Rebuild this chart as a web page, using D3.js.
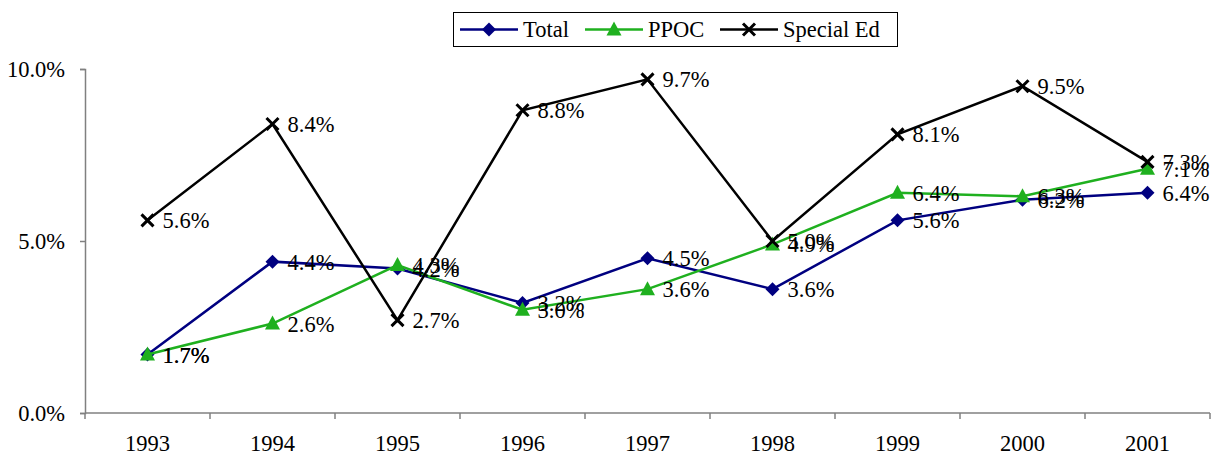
<!DOCTYPE html>
<html>
<head>
<meta charset="utf-8">
<script src="https://cdn.jsdelivr.net/npm/d3@7"></script>
<style>
body { margin: 0; background: #fff; }
</style>
</head>
<body>
<script>
// chart data
var years = ["1993", "1994", "1995", "1996", "1997", "1998", "1999", "2000", "2001"];
var total = [1.7, 4.4, 4.2, 3.2, 4.5, 3.6, 5.6, 6.2, 6.4];
var ppoc = [1.7, 2.6, 4.3, 3.0, 3.6, 4.9, 6.4, 6.3, 7.1];
var specialEd = [5.6, 8.4, 2.7, 8.8, 9.7, 5.0, 8.1, 9.5, 7.3];
var yTicks = [0, 5, 10];

var series = [
	{name: "Total", values: total, color: "#000080", marker: "diamond"},
	{name: "PPOC", values: ppoc, color: "#1fb01f", marker: "triangle"},
	{name: "Special Ed", values: specialEd, color: "#000000", marker: "cross"}
];

var font = "Liberation Serif, DejaVu Serif, serif";
var fs = 22.5;
var width = 1220, height = 455;
var margin = {left: 85, right: 10, top: 69, bottom: 42};

var svg = d3.select("body")
	.append("svg")
	.attr("width", width)
	.attr("height", height)
	.style("font-family", font);

var x = d3.scaleBand()
	.domain(years)
	.range([margin.left, width - margin.right]);

var y = d3.scaleLinear()
	.domain([0, 10])
	.range([height - margin.bottom, margin.top]);

// y axis
var yAxis = svg.append("g")
	.attr("transform", "translate(" + margin.left + ",0)")
	.call(d3.axisLeft(y).tickValues(yTicks).tickSize(5).tickPadding(15)
		.tickFormat(function(d) { return d.toFixed(1) + "%"; }));
yAxis.attr("font-family", font).attr("font-size", null);
yAxis.select(".domain").attr("stroke", "#808080").attr("stroke-width", 1.5);
yAxis.selectAll("line").attr("stroke", "#808080").attr("stroke-width", 1.5);
yAxis.selectAll("text").attr("font-size", fs).attr("font-family", font).attr("fill", "#000");

// x axis, ticks between categories
var xAxis = svg.append("g")
	.attr("transform", "translate(0," + y(0) + ")");
xAxis.append("line")
	.attr("x1", margin.left).attr("x2", width - margin.right)
	.attr("stroke", "#808080").attr("stroke-width", 1.5);
var edges = years.map(function(d) { return x(d); }).concat([x(years[years.length - 1]) + x.bandwidth()]);
xAxis.selectAll(".tk")
	.data(edges)
	.enter().append("line")
	.attr("x1", function(d) { return d; }).attr("x2", function(d) { return d; })
	.attr("y1", 0).attr("y2", 6)
	.attr("stroke", "#808080").attr("stroke-width", 1.5);
xAxis.selectAll(".lbl")
	.data(years)
	.enter().append("text")
	.attr("x", function(d) { return x(d) + x.bandwidth() / 2; })
	.attr("y", 38)
	.attr("text-anchor", "middle")
	.attr("font-size", fs)
	.attr("font-family", font)
	.text(function(d) { return d; });

function drawMarker(g, type, color) {
	if (type === "diamond") {
		g.append("path").attr("d", "M0,-7L7,0L0,7L-7,0Z").attr("fill", color);
	} else if (type === "triangle") {
		g.append("path").attr("d", "M0,-8L7.5,6L-7.5,6Z").attr("fill", color);
	} else {
		g.append("path").attr("d", "M-6,-6L6,6M-6,6L6,-6")
			.attr("stroke", color).attr("stroke-width", 3).attr("fill", "none");
	}
}

var line = d3.line()
	.x(function(d, i) { return x(years[i]) + x.bandwidth() / 2; })
	.y(function(d) { return y(d); });

series.forEach(function(s) {
	svg.append("path")
		.datum(s.values)
		.attr("d", line)
		.attr("fill", "none")
		.attr("stroke", s.color)
		.attr("stroke-width", 2.5);
	s.values.forEach(function(v, i) {
		var g = svg.append("g")
			.attr("transform", "translate(" + (x(years[i]) + x.bandwidth() / 2) + "," + y(v) + ")");
		drawMarker(g, s.marker, s.color);
	});
});

// data labels
series.forEach(function(s) {
	svg.selectAll(null)
		.data(s.values)
		.enter().append("text")
		.attr("x", function(d, i) { return x(years[i]) + x.bandwidth() / 2 + 15; })
		.attr("y", function(d) { return y(d) + 8; })
		.attr("font-size", fs)
		.attr("font-family", font)
		.attr("fill", "#000")
		.text(function(d) { return d.toFixed(1) + "%"; });
});

// legend
var legend = svg.append("g");
legend.append("rect")
	.attr("x", 453.5).attr("y", 12.5).attr("width", 444).attr("height", 34)
	.attr("fill", "#fff").attr("stroke", "#000").attr("stroke-width", 1);
var legendX = [460, 585, 720];
series.forEach(function(s, i) {
	var lx = legendX[i];
	legend.append("line")
		.attr("x1", lx).attr("x2", lx + 58)
		.attr("y1", 29.5).attr("y2", 29.5)
		.attr("stroke", s.color).attr("stroke-width", 2.5);
	drawMarker(legend.append("g").attr("transform", "translate(" + (lx + 29) + ",29.5)"), s.marker, s.color);
	legend.append("text")
		.attr("x", lx + 63).attr("y", 37)
		.attr("font-size", fs)
		.attr("font-family", font)
		.text(s.name);
});
</script>
</body>
</html>
